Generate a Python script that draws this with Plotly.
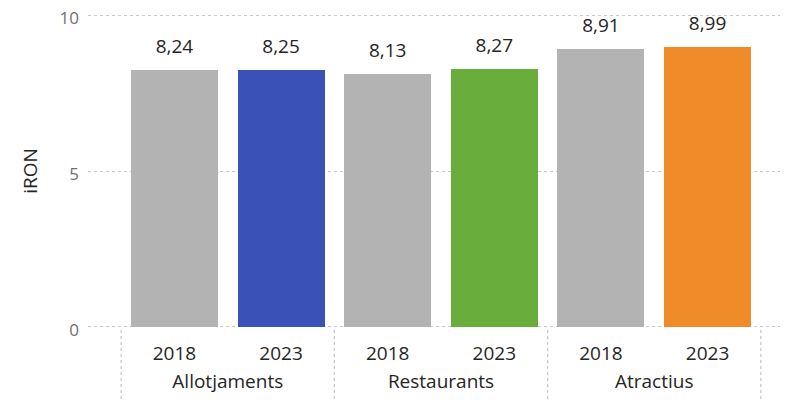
import plotly.graph_objects as go

groups = ["Allotjaments", "Allotjaments", "Restaurants", "Restaurants", "Atractius", "Atractius"]
years = ["2018", "2023", "2018", "2023", "2018", "2023"]
values = [8.24, 8.25, 8.13, 8.27, 8.91, 8.99]
colors = ["#b3b3b3", "#3a52b8", "#b3b3b3", "#69ae3d", "#b3b3b3", "#f08b2a"]
labels = [f"{v:.2f}".replace(".", ",") for v in values]

W, H = 788, 402
# page body has an 8px default offset; margins compensate for it
ml, mr, mt, mb = 80, 10, 6, 70
FONT = "Open Sans, Segoe UI, sans-serif"
ph = H - mt - mb              # paper height in px
gap = 12                      # px between plot bottom and x axis labels anchor
ydom0 = gap / ph

fig = go.Figure()
fig.add_bar(
    x=[groups, years], y=values,
    marker=dict(color=colors, line=dict(width=0)),
    width=0.815, hoverinfo="skip",
)
fig.add_scatter(
    x=[groups, years], y=values, mode="markers+text",
    marker=dict(size=18, opacity=0),
    text=labels, textposition="top center",
    textfont=dict(family=FONT, size=19, color="#252525"),
    cliponaxis=False, hoverinfo="skip",
)

x0, x1 = -0.811, 5.736
y0, y1 = -0.04, 10.04
shapes = []
for b in [-0.5, 1.5, 3.5, 5.5]:
    xp = (b - x0) / (x1 - x0)
    shapes.append(dict(type="line", xref="paper", yref="paper",
                       x0=xp, x1=xp, y0=(gap - 2) / ph, y1=-(mb - 4) / ph,
                       line=dict(color="#c8c8c8", width=1.3, dash="dot")))

fig.update_layout(
    width=W, height=H,
    margin=dict(l=ml, r=mr, t=mt, b=mb, autoexpand=False),
    paper_bgcolor="white", plot_bgcolor="white",
    showlegend=False,
    font=dict(family=FONT, color="#252525"),
    shapes=shapes,
    bargap=0,
    xaxis=dict(
        type="multicategory", range=[x0, x1], automargin=False,
        anchor="free", position=0,
        showdividers=False, showgrid=False, zeroline=False, showline=False,
        ticks="",
        tickfont=dict(size=19, color="#252525"),
    ),
    yaxis=dict(
        domain=[ydom0, 1],
        range=[y0, y1], tickvals=[0, 5, 10], ticktext=["0", "5", "10"],
        automargin=False,
        showgrid=True, gridcolor="#c8c8c8", griddash="dot", gridwidth=1.3,
        zeroline=False, showline=False, ticks="", ticklen=0,
        ticklabeloverflow="allow", ticklabelstandoff=8, ticklabelshift=3,
        tickfont=dict(size=17, color="#707070"),
        title=dict(text="iRON", font=dict(size=19, color="#252525"), standoff=16),
    ),
)

fig.write_html("out.html")
